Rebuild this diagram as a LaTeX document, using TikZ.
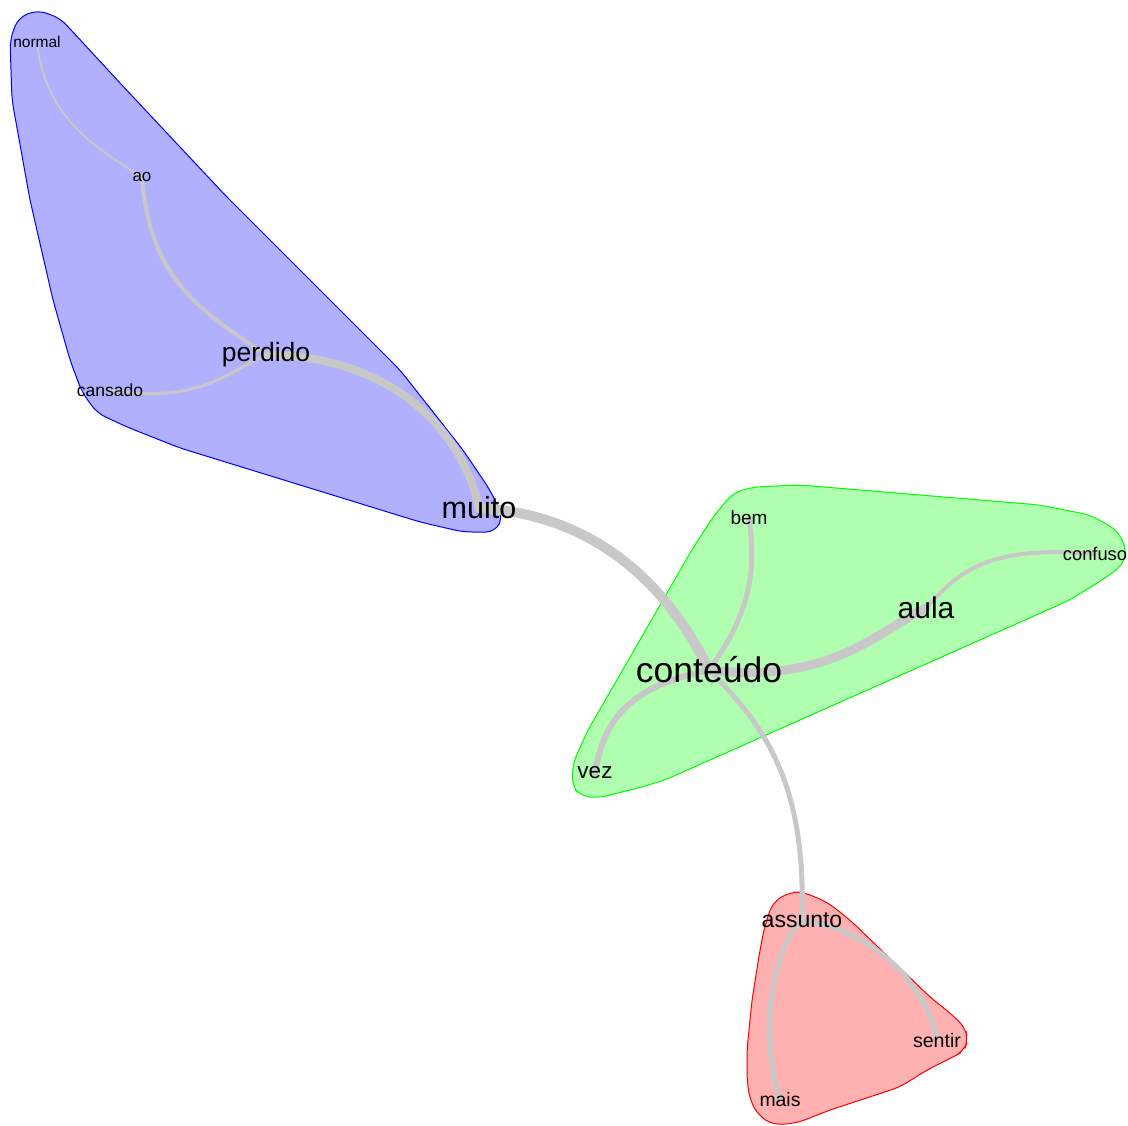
\documentclass[tikz,border=0pt]{standalone}
\usepackage{fontspec}
\setmainfont{Liberation Sans}
\pgfdeclarelayer{background}
\pgfsetlayers{background,main}

\begin{document}
\begin{tikzpicture}[x=1pt, y=-1pt,
		word/.style = {inner sep=0pt, font=\fontsize{#1}{#1}\selectfont},
		hull/.style = {draw=#1, fill=#1!31, line width=1pt, rounded corners=9pt},
		link/.style = {draw=linkgray, line width=#1pt, line cap=round}]
		\definecolor{linkgray}{RGB}{200,200,200}
		\useasboundingbox (0,0) rectangle (1128,1126);

		% words
		\node[word=15.5] (normal)   at (37,42)   {normal};
		\node[word=17]   (ao)       at (142,177) {ao};
		\node[word=26.5] (perdido)  at (266,355) {perdido};
		\node[word=17.5] (cansado)  at (110,390) {cansado};
		\node[word=30.5] (muito)    at (479,508) {muito};
		\node[word=19]   (bem)      at (749,518) {bem};
		\node[word=18.3] (confuso)  at (1095,554) {confuso};
		\node[word=30]   (aula)     at (926,608) {aula};
		\node[word=35.5] (conteudo) at (709,670) {conteúdo};
		\node[word=22.5] (vez)      at (595,773) {vez};
		\node[word=23]   (assunto)  at (802,920) {assunto};
		\node[word=19.6] (sentir)   at (937,1040) {sentir};
		\node[word=19.4] (mais)     at (780,1100) {mais};

		\begin{pgfonlayer}{background}
		% groups
		\draw[hull=blue] (37,10) -- (60,18) -- (120,83) -- (225,195) -- (400,370) -- (463,450) -- (490,490) -- (503,517) -- (495,532) -- (463,532) -- (420,522) -- (180,448) -- (127,427) -- (97,413) -- (82,392) -- (70,360) -- (53,300) -- (30,200) -- (12,100) -- (10,40) -- (18,18) -- cycle;
		\draw[hull=green] (753,487) -- (800,485) -- (1040,505) -- (1090,515) -- (1117,530) -- (1127,550) -- (1122,566) -- (1105,578) -- (1070,600) -- (665,780) -- (638,788) -- (598,798) -- (580,796) -- (572,785) -- (573,763) -- (588,730) -- (693,548) -- (713,517) -- (733,493) -- cycle;
		\draw[hull=red] (790,892) -- (803,892) -- (827,902) -- (850,920) -- (930,997) -- (950,1013) -- (965,1027) -- (968,1040) -- (964,1051) -- (953,1057) -- (927,1070) -- (900,1087) -- (830,1110) -- (797,1123) -- (773,1125) -- (758,1115) -- (750,1100) -- (747,1080) -- (747,1050) -- (752,1000) -- (760,950) -- (765,925) -- (773,902) -- cycle;

		% links
		\draw[link=2]  (normal.center) .. controls (45,120) and (100,150) .. (ao.center);
		\draw[link=4]  (ao.center) .. controls (150,280) and (200,310) .. (perdido.center);
		\draw[link=3]  (cansado.center) .. controls (200,405) and (230,370) .. (perdido.center);
		\draw[link=8]  (perdido.center) .. controls (380,355) and (460,420) .. (muito.center);
		\draw[link=10] (muito.center) .. controls (600,515) and (670,590) .. (conteudo.center);
		\draw[link=5]  (bem.center) .. controls (758,580) and (745,620) .. (conteudo.center);
		\draw[link=9]  (conteudo.center) .. controls (830,685) and (880,630) .. (aula.center);
		\draw[link=4]  (aula.center) .. controls (960,570) and (990,545) .. (confuso.center);
		\draw[link=6]  (vez.center) .. controls (605,710) and (640,685) .. (conteudo.center);
		\draw[link=5]  (conteudo.center) .. controls (770,730) and (806,790) .. (assunto.center);
		\draw[link=5]  (assunto.center) .. controls (770,950) and (760,1040) .. (mais.center);
		\draw[link=5]  (assunto.center) .. controls (870,930) and (925,980) .. (sentir.center);
		\end{pgfonlayer}
	\end{tikzpicture}
\end{document}
